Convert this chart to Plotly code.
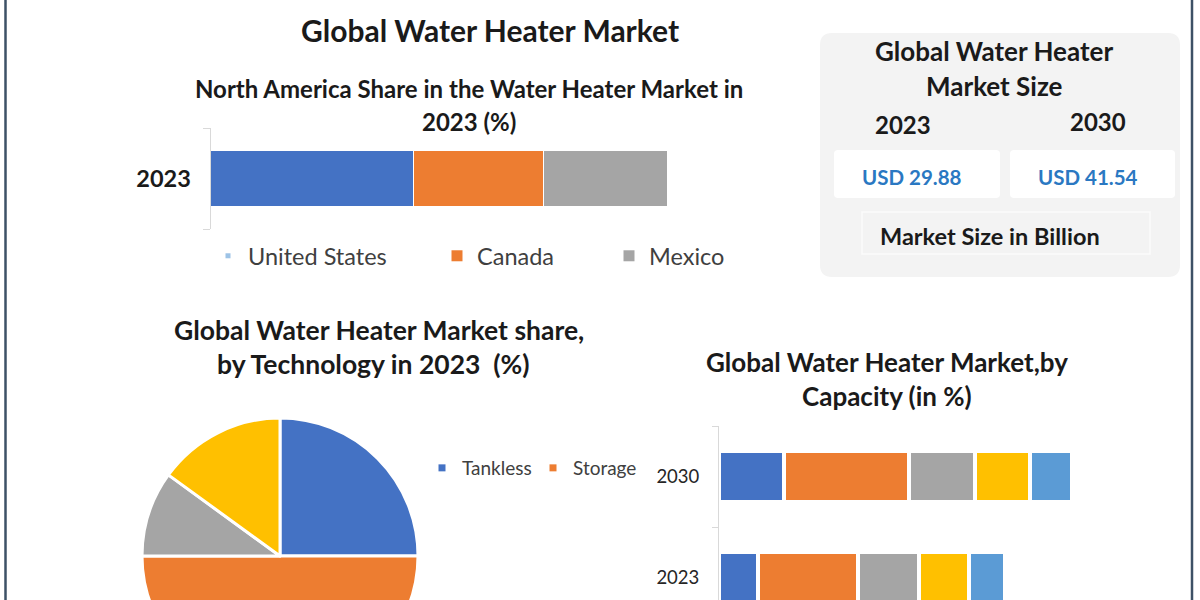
import plotly.graph_objects as go

W, H = 1200, 700

def X(px):
    return px / W

def Y(py):
    return 1 - py / H

FONT = "Lato"
BLUE, ORANGE, GREY, YELLOW, LBLUE = "#4472c4", "#ed7d31", "#a5a5a5", "#ffc000", "#5b9bd5"

# ---- data ----
na_year = ["2023"]
na_countries = ["United States", "Canada", "Mexico"]
na_share = [44.4, 28.4, 27.2]

tech_labels = ["Tankless", "Storage", "Hybrid", "Solar"]
tech_share = [25, 50, 10, 15]

cap_years = ["2023", "2030"]
cap_segments = ["Below 30 Liters", "30-100 Liters", "100-250 Liters", "250-400 Liters", "Above 400 Liters"]
cap_2023 = [11.1, 28.7, 17.3, 14.3, 10.3]
cap_2030 = [18.6, 35.6, 18.8, 15.9, 11.9]

market_years = ["2023", "2030"]
market_size = ["USD 29.88", "USD 41.54"]

fig = go.Figure()

# ---- North America stacked bar ----
na_colors = [BLUE, ORANGE, GREY]
for name, val, col in zip(na_countries, na_share, na_colors):
    fig.add_trace(go.Bar(
        x=[val], y=na_year, name=name, orientation="h", width=0.564,
        marker=dict(color=col, line=dict(color="white", width=1.5)),
        xaxis="x", yaxis="y", showlegend=False,
    ))

# NA legend entries (separate legends to match spacing)
na_leg_colors = ["#9dc3e6", ORANGE, GREY]
na_leg_sizes = [5, 11, 11]
na_legends = ["legend", "legend2", "legend3"]
for name, col, sz, lg in zip(na_countries, na_leg_colors, na_leg_sizes, na_legends):
    fig.add_trace(go.Scatter(
        x=[None], y=[None], mode="markers", name=name,
        marker=dict(symbol="square", color=col, size=sz),
        xaxis="x", yaxis="y", legend=lg, showlegend=True,
    ))

# ---- Technology pie ----
fig.add_trace(go.Pie(
    labels=tech_labels, values=tech_share, sort=False, direction="clockwise",
    rotation=0, textinfo="none", showlegend=False,
    marker=dict(colors=[BLUE, ORANGE, GREY, YELLOW], line=dict(color="white", width=3)),
    domain=dict(x=[X(142), X(418)], y=[Y(694), Y(418)]),
))
for name, col in zip(tech_labels[:2], [BLUE, ORANGE]):
    fig.add_trace(go.Scatter(
        x=[None], y=[None], mode="markers", name=name,
        marker=dict(symbol="square", color=col, size=7),
        xaxis="x", yaxis="y", legend="legend4", showlegend=True,
    ))

# ---- Capacity stacked bar ----
cap_colors = [BLUE, ORANGE, GREY, YELLOW, LBLUE]
for i, (name, col) in enumerate(zip(cap_segments, cap_colors)):
    fig.add_trace(go.Bar(
        x=[cap_2023[i], cap_2030[i]], y=cap_years, name=name, orientation="h", width=0.5,
        marker=dict(color=col, line=dict(color="white", width=4)),
        xaxis="x2", yaxis="y2", showlegend=False,
    ))

axis_line = "#d9d9d9"
legend_common = dict(orientation="h", xanchor="left", yanchor="middle",
                     bgcolor="rgba(0,0,0,0)", borderwidth=0,
                     font=dict(family=FONT, size=23.5, color="#404040"))

fig.update_layout(
    width=W, height=H,
    margin=dict(l=0, r=0, t=0, b=0),
    paper_bgcolor="white", plot_bgcolor="rgba(0,0,0,0)",
    barmode="stack",
    font=dict(family=FONT, color="#1a1a1a"),
    xaxis=dict(domain=[X(210.5), X(668)], range=[0, 100], visible=False, fixedrange=True),
    yaxis=dict(domain=[Y(229), Y(128)], type="category", showline=True, linecolor=axis_line,
               linewidth=1, ticks="outside", tickson="boundaries", ticklen=7,
               tickcolor=axis_line, showgrid=False, zeroline=False,
               tickfont=dict(family=FONT, size=23.5, color="#1a1a1a", weight="bold"),
               ticklabelstandoff=14, fixedrange=True),
    xaxis2=dict(domain=[X(719), X(1139)], range=[0, 120], visible=False, fixedrange=True),
    yaxis2=dict(domain=[Y(628), Y(426)], type="category", categoryarray=cap_years,
                categoryorder="array", showline=True, linecolor=axis_line, linewidth=1,
                ticks="outside", tickson="boundaries", ticklen=6, tickcolor=axis_line,
                showgrid=False, zeroline=False, anchor="x2",
                tickfont=dict(family=FONT, size=18.5, color="#262626"),
                ticklabelstandoff=15, fixedrange=True),
    legend=dict(x=X(208), y=Y(256), **legend_common),
    legend2=dict(x=X(437), y=Y(256), **legend_common),
    legend3=dict(x=X(609), y=Y(256), **legend_common),
    legend4=dict(x=X(422), y=Y(468), entrywidth=66, entrywidthmode="pixels",
                 **{**legend_common, "font": dict(family=FONT, size=19, color="#404040")}),
)
fig.update_layout(xaxis2_anchor="y2")

def rrect(x0, y0, x1, y1, r):
    # rounded rectangle path in paper coords from pixel values
    return (f"M {X(x0+r)} {Y(y0)} L {X(x1-r)} {Y(y0)} Q {X(x1)} {Y(y0)} {X(x1)} {Y(y0+r)} "
            f"L {X(x1)} {Y(y1-r)} Q {X(x1)} {Y(y1)} {X(x1-r)} {Y(y1)} "
            f"L {X(x0+r)} {Y(y1)} Q {X(x0)} {Y(y1)} {X(x0)} {Y(y1-r)} "
            f"L {X(x0)} {Y(y0+r)} Q {X(x0)} {Y(y0)} {X(x0+r)} {Y(y0)} Z")

shapes = [
    dict(type="path", path=rrect(820, 33, 1180, 277, 12), xref="paper", yref="paper",
         fillcolor="#f3f3f3", line=dict(width=0), layer="below"),
    dict(type="path", path=rrect(834, 150, 1000, 198, 4), xref="paper", yref="paper",
         fillcolor="white", line=dict(width=0), layer="below"),
    dict(type="path", path=rrect(1010, 150, 1175, 198, 4), xref="paper", yref="paper",
         fillcolor="white", line=dict(width=0), layer="below"),
    dict(type="rect", x0=X(862), x1=X(1150), y0=Y(254), y1=Y(212), xref="paper", yref="paper",
         fillcolor="#f3f3f3", line=dict(color="#fbfbfb", width=1.5), layer="below"),
    dict(type="line", x0=X(5.5), x1=X(5.5), y0=0, y1=1, xref="paper", yref="paper",
         line=dict(color="#3d5166", width=2.5)),
    dict(type="line", x0=X(1192), x1=X(1192), y0=0, y1=1, xref="paper", yref="paper",
         line=dict(color="#3d5166", width=2.5)),
]
fig.update_layout(shapes=shapes)

def txt(s, xc, yc, size, color="#1a1a1a", bold=True):
    return dict(text=s, x=X(xc), y=Y(yc), xref="paper", yref="paper", showarrow=False,
                xanchor="center", yanchor="middle",
                font=dict(family=FONT, size=size, color=color, weight="bold" if bold else "normal"))

annotations = [
    txt("Global Water Heater Market", 490, 30, 30),
    txt("North America Share in the Water Heater Market in", 469, 89, 24),
    txt("2023 (%)", 469, 122, 24),
    txt("Global Water Heater", 994, 51, 26),
    txt("Market Size", 994, 86, 26),
    txt(market_years[0], 903, 124, 24),
    txt(market_years[1], 1098, 122, 24),
    txt(market_size[0], 912, 177, 20.5, color="#2a78c2"),
    txt(market_size[1], 1088, 177, 20.5, color="#2a78c2"),
    txt("Market Size in Billion", 990, 236, 23.5),
    txt("Global Water Heater Market share,", 379, 330, 26.5),
    txt("by Technology in 2023 &nbsp;(%)", 373, 364, 26.5),
    txt("Global Water Heater Market,by", 887, 362, 26),
    txt("Capacity (in %)", 887, 396, 26),
]
fig.update_layout(annotations=annotations)

fig.write_html("out.html")
